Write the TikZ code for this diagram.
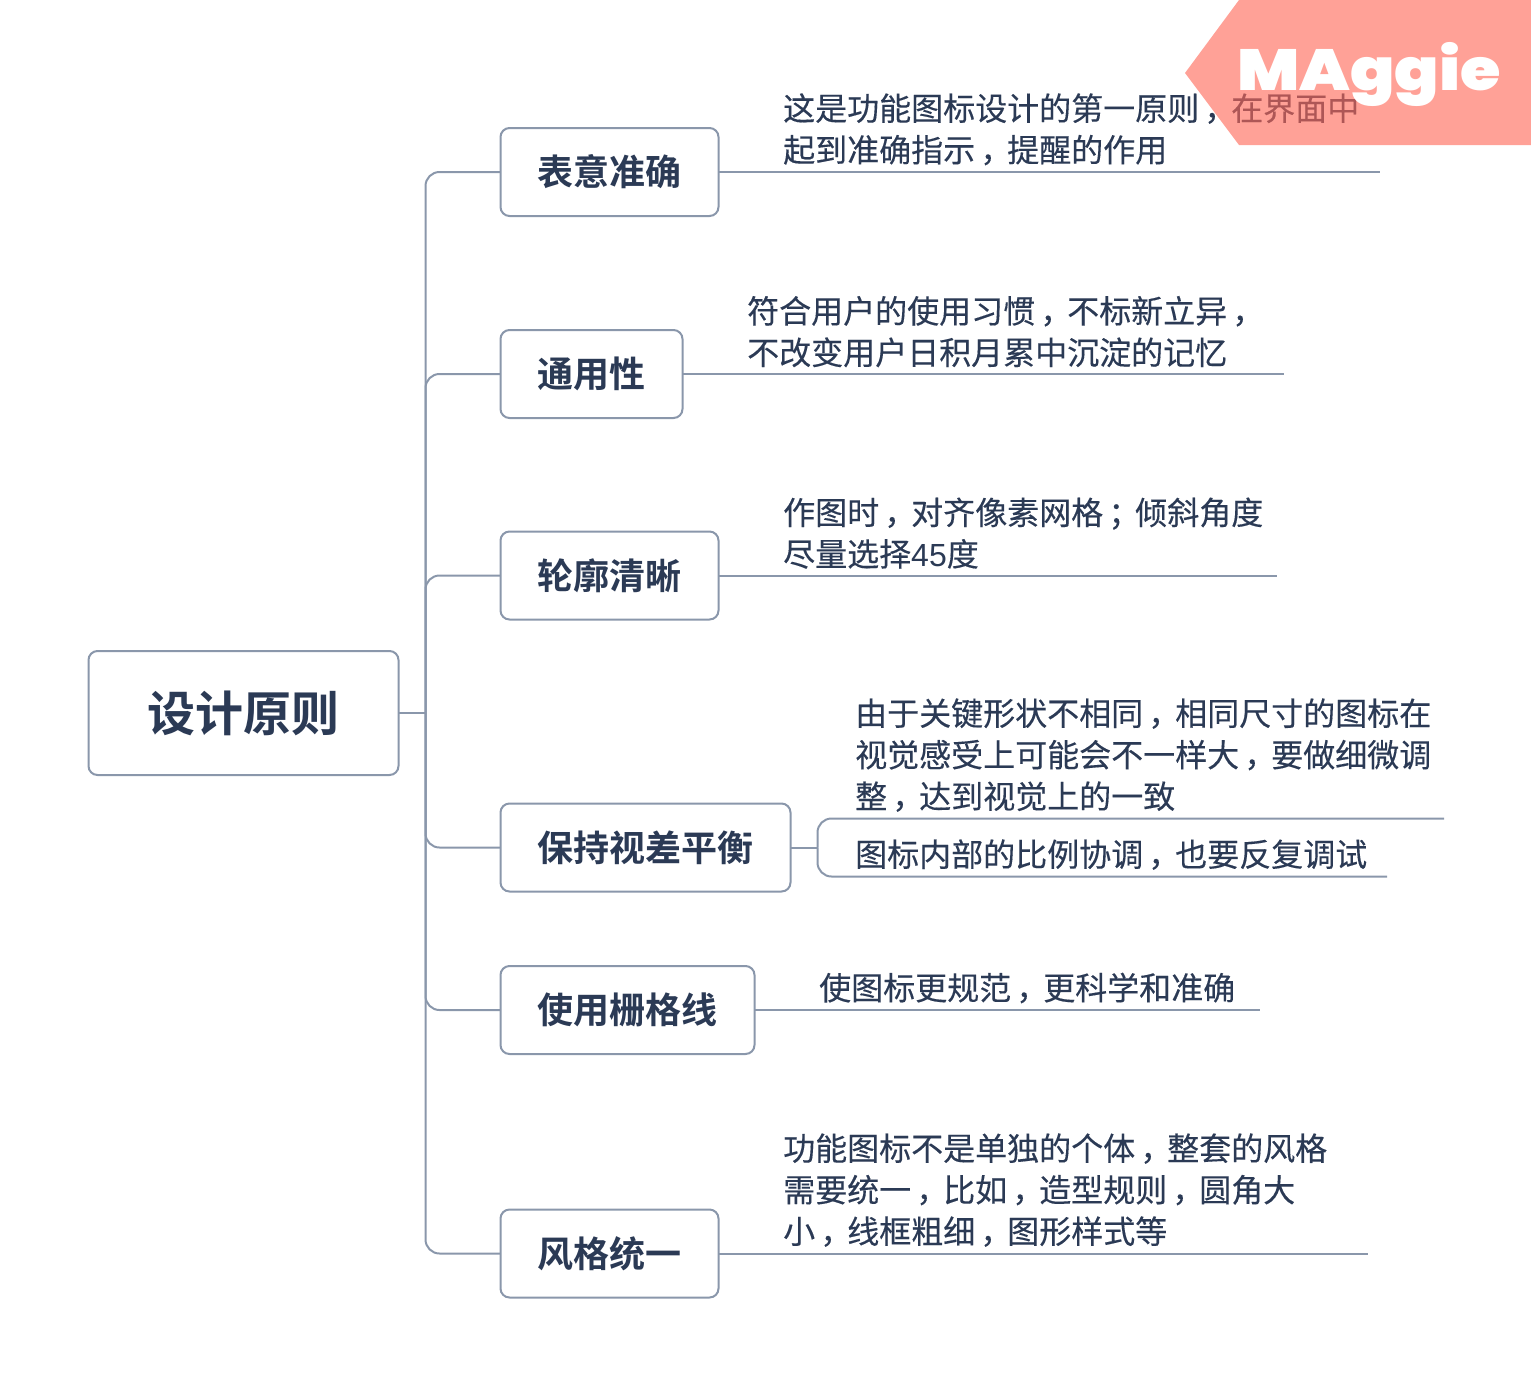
\documentclass[tikz,border=0pt]{standalone}
\usepackage{fontspec}
\setmainfont{Noto Sans CJK SC}[FakeBold=0.25]
\newfontfamily\logofont{Poppins Black}
\newfontfamily\titlefont{Noto Sans CJK SC Bold}
\newfontfamily\latinfont{Liberation Sans}
\usetikzlibrary{calc}
\definecolor{ink}{HTML}{2B3A55}
\definecolor{rule}{HTML}{8A97AB}
\definecolor{tag}{HTML}{FF6857}
\newcommand{\cm}{\makebox[1em][c]{\hspace{.32em}，}}
\newcommand{\sm}{\makebox[1em][c]{\hspace{.32em}；}}
\tikzset{
  topic/.style={draw=rule,line width=2pt,rounded corners=9pt,inner sep=0pt,outer sep=0pt,fill=white,text=ink,font=\titlefont\fontsize{36}{36}\selectfont,anchor=north west,align=center},
  rootbox/.style={topic,font=\titlefont\fontsize{48}{48}\selectfont},
  body/.style={text=ink,anchor=south west,align=left,inner sep=0pt,font=\fontsize{32}{41.5}\selectfont},
  lnk/.style={draw=rule,line width=2pt,rounded corners=14pt},
  under/.style={draw=rule,line width=2pt},
}
\begin{document}
\begin{tikzpicture}[x=1pt,y=-1pt]
\useasboundingbox (0,0) rectangle (1531,1387);
\node[rootbox,minimum width=310pt,minimum height=124pt] (root) at (88.5,651) {设计原则};
\node[topic,minimum width=218pt,minimum height=88pt] (t1) at (500.5,128) {表意准确};
\node[topic,minimum width=182pt,minimum height=88pt] (t2) at (500.5,330) {通用性};
\node[topic,minimum width=218pt,minimum height=88pt] (t3) at (500.5,531.5) {轮廓清晰};
\node[topic,minimum width=290pt,minimum height=88pt] (t4) at (500.5,803.5) {保持视差平衡};
\node[topic,minimum width=254pt,minimum height=88pt] (t5) at (500.5,966) {使用栅格线};
\node[topic,minimum width=218pt,minimum height=88pt] (t6) at (500.5,1209.5) {风格统一};
\coordinate (trunk) at (root.east -| 425.5,0);
\draw[lnk] (root.east) -- (trunk);
\foreach \t in {t1,t2,t3,t4,t5,t6} {
  \draw[lnk] (trunk) -- (trunk |- \t.west) -- (\t.west);
}
\coordinate (e1) at (1380,0);
\coordinate (e2) at (1284,0);
\coordinate (e3) at (1277,0);
\coordinate (e5) at (1260,0);
\coordinate (e6) at (1368,0);
\coordinate (e4a) at (1444,818.5);
\coordinate (e4b) at (1387,876.5);
\coordinate (fork) at (t4.east -| 817.5,0);
\draw[under] (t1.east) -- (t1.east -| e1);
\draw[under] (t2.east) -- (t2.east -| e2);
\draw[under] (t3.east) -- (t3.east -| e3);
\draw[under] (t5.east) -- (t5.east -| e5);
\draw[under] (t6.east) -- (t6.east -| e6);
\draw[under] (t4.east) -- (fork);
\draw[lnk] (fork) -- (fork |- e4a) -- (e4a);
\draw[lnk] (fork) -- (fork |- e4b) -- (e4b);
\node[body] (b1) at (783,165.5) {这是功能图标设计的第一原则\cm 在界面中\\起到准确指示\cm 提醒的作用};
\node[body] (b2) at (747,367.5) {符合用户的使用习惯\cm 不标新立异\cm\\不改变用户日积月累中沉淀的记忆};
\node[body] (b3) at (783,569) {作图时\cm 对齐像素网格\sm 倾斜角度\\尽量选择{\latinfont 45}度};
\node[body] (b4a) at (855,812) {由于关键形状不相同\cm 相同尺寸的图标在\\视觉感受上可能会不一样大\cm 要做细微调\\整\cm 达到视觉上的一致};
\node[body] (b4b) at (855,870) {图标内部的比例协调\cm 也要反复调试};
\node[body] (b5) at (819,1003.5) {使图标更规范\cm 更科学和准确};
\node[body] (b6) at (783,1247) {功能图标不是单独的个体\cm 整套的风格\\需要统一\cm 比如\cm 造型规则\cm 圆角大\\小\cm 线框粗细\cm 图形样式等};
\fill[tag,opacity=.62] (1239,0) -- (1531,0) -- (1531,145) -- (1239,145) -- (1185,73) -- cycle;
\node[anchor=base west,inner sep=0pt,text=white,xscale=1.13,transform shape,font=\logofont\fontsize{58}{58}\selectfont] (logo) at (1237,90) {MAggie};
\end{tikzpicture}
\end{document}
